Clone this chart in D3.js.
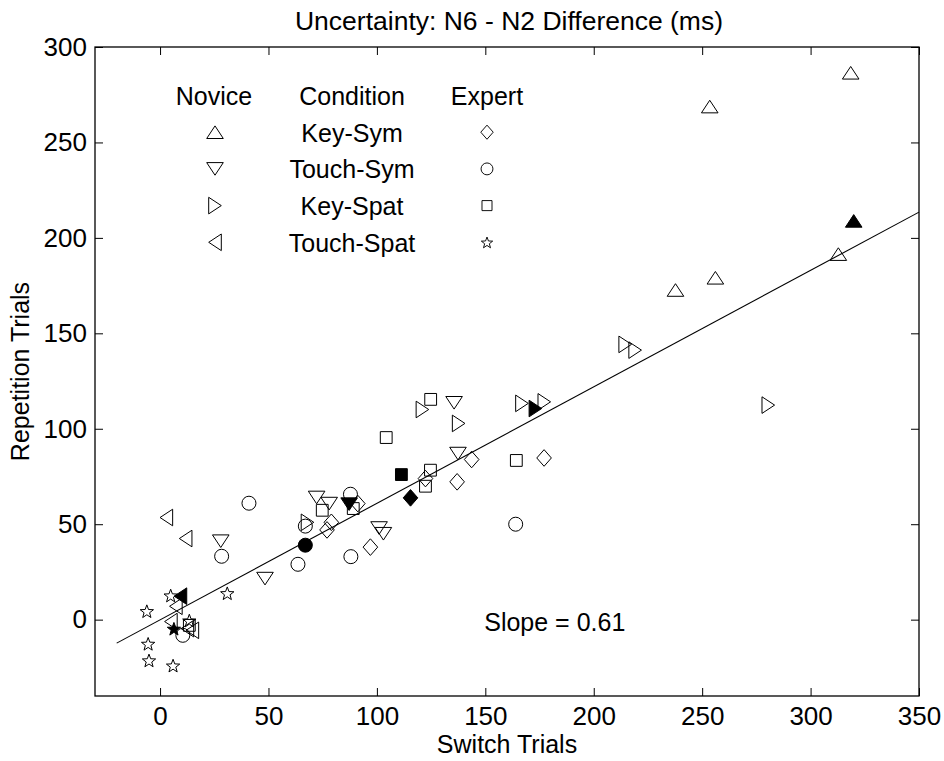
<!DOCTYPE html>
<html>
<head>
<meta charset="utf-8">
<script src="https://cdn.jsdelivr.net/npm/d3@7"></script>
<style>
  body { margin: 0; background: #fff; }
  svg { display: block; font-family: "Liberation Sans", Arial, sans-serif; }
</style>
</head>
<body>
<svg id="drawing_region"></svg>
<script>
// values, [switch, repetition] in ms
const keySymNovice = [[253.5, 268.8], [318.5, 286.5], [312.8, 191.5], [256.1, 179.1], [237.7, 172.7]];
const keySymNoviceMean = [[319.9, 208.9]];
const touchSymNovice = [[28.0, 41.1], [48.4, 21.5], [72.2, 64.0], [78.0, 60.8], [101, 48], [103, 45], [135.6, 113.6], [137.4, 87.0]];
const touchSymNoviceMean = [[87.2, 60.5]];
const keySpatNovice = [[68, 51], [121.0, 110.1], [137.7, 102.8], [166.9, 113.3], [177.2, 114.1], [214.5, 144.2], [219.1, 141.2], [280.5, 112.4]];
const keySpatNoviceMean = [[173.1, 110.6]];
const touchSpatNovice = [[2.9, 53.5], [11.8, 42.5], [7.3, 7.0], [12.6, -4.7], [14.9, -5.6], [5, -1]];
const touchSpatNoviceMean = [[9.4, 12.3]];

const keySymExpert = [[77, 47], [79, 51], [91.2, 60.8], [97, 38], [122.4, 73.9], [137, 72.2], [143.7, 83.9], [177.1, 84.7]];
const keySymExpertMean = [[115.5, 63.8]];
const touchSymExpert = [[10.5, -8.2], [28.4, 33.2], [41, 61], [63.6, 29.0], [67, 49], [87.8, 65.7], [88, 33], [164, 50]];
const touchSymExpertMean = [[67, 39]];
const keySpatExpert = [[13.5, -3], [74.8, 57.3], [89.1, 58.2], [104.3, 95.4], [122.4, 69.9], [124.7, 78.3], [124.8, 115.4], [164.3, 83.4]];
const keySpatExpertMean = [[111.3, 76.0]];
const touchSpatExpert = [[-6.1, 4.5], [-5.5, -12.6], [-5.1, -21.3], [6.0, -24.0], [4.9, 12.7], [13.5, -0.4], [31.0, 13.9]];
const touchSpatExpertMean = [[6.4, -4.7]];

// regression line end points
const fitX = [-20, 350];
const fitY = [-12.3, 213.5];
const slopeLabel = "Slope = 0.61";

const conditions = ["Key-Sym", "Touch-Sym", "Key-Spat", "Touch-Spat"];
const xTicks = [0, 50, 100, 150, 200, 250, 300, 350];
const yTicks = [0, 50, 100, 150, 200, 250, 300];
const xDomain = [-30, 350];
const yDomain = [-40, 300];

// marker outlines (pixels)
const shapes = {
    up: "M0,-6.3L8.3,6.3L-8.3,6.3Z",
    down: "M0,6.3L8.3,-6.3L-8.3,-6.3Z",
    right: "M6.3,0L-6.3,-8.3L-6.3,8.3Z",
    left: "M-6.3,0L6.3,-8.3L6.3,8.3Z",
    diamond: "M0,-8.3L7.3,0L0,8.3L-7.3,0Z",
    square: "M-5.9,-5.9H5.9V5.9H-5.9Z",
    circle: "M7,0A7,7 0 1,1 -7,0A7,7 0 1,1 7,0Z",
    star: (() => {
        let p = [];
        for (let i = 0; i < 10; i++) {
            const r = i % 2 === 0 ? 7 : 2.9;
            const a = -Math.PI / 2 + i * Math.PI / 5;
            p.push([r * Math.cos(a), r * Math.sin(a) + 0.8]);
        }
        return "M" + p.map(d => d[0].toFixed(2) + "," + d[1].toFixed(2)).join("L") + "Z";
    })()
};

const series = [
    { data: keySymNovice, shape: "up", filled: false },
    { data: touchSymNovice, shape: "down", filled: false },
    { data: keySpatNovice, shape: "right", filled: false },
    { data: touchSpatNovice, shape: "left", filled: false },
    { data: keySymExpert, shape: "diamond", filled: false },
    { data: touchSymExpert, shape: "circle", filled: false },
    { data: keySpatExpert, shape: "square", filled: false },
    { data: touchSpatExpert, shape: "star", filled: false },
    { data: keySymNoviceMean, shape: "up", filled: true },
    { data: touchSymNoviceMean, shape: "down", filled: true },
    { data: keySpatNoviceMean, shape: "right", filled: true },
    { data: touchSpatNoviceMean, shape: "left", filled: true },
    { data: keySymExpertMean, shape: "diamond", filled: true },
    { data: touchSymExpertMean, shape: "circle", filled: true },
    { data: keySpatExpertMean, shape: "square", filled: true },
    { data: touchSpatExpertMean, shape: "star", filled: true }
];

const config = {
    width: 944,
    height: 761,
    margin: { top: 47, right: 25, bottom: 65, left: 95 }
};

const svg = d3.select("#drawing_region")
    .attr("width", config.width)
    .attr("height", config.height);

const inner_width = config.width - config.margin.left - config.margin.right;
const inner_height = config.height - config.margin.top - config.margin.bottom;

const chart = svg.append("g")
    .attr("transform", `translate(${config.margin.left}, ${config.margin.top})`);

const xscale = d3.scaleLinear().domain(xDomain).range([0, inner_width]);
const yscale = d3.scaleLinear().domain(yDomain).range([inner_height, 0]);

const tick = 8;

// axes, ticks pointing inward on all four sides
const xaxis = chart.append("g")
    .attr("transform", `translate(0, ${inner_height})`)
    .call(d3.axisBottom(xscale).tickValues(xTicks).tickSizeInner(-tick).tickSizeOuter(0).tickPadding(11));
const yaxis = chart.append("g")
    .call(d3.axisLeft(yscale).tickValues(yTicks).tickSizeInner(-tick).tickSizeOuter(0).tickPadding(8));
chart.append("g")
    .call(d3.axisTop(xscale).tickValues(xTicks).tickSizeInner(-tick).tickSizeOuter(0).tickFormat(""));
chart.append("g")
    .attr("transform", `translate(${inner_width}, 0)`)
    .call(d3.axisRight(yscale).tickValues(yTicks).tickSizeInner(-tick).tickSizeOuter(0).tickFormat(""));

chart.selectAll(".domain").remove();
chart.selectAll(".tick line").attr("stroke", "#000").attr("stroke-width", 1);
chart.selectAll(".tick text")
    .attr("fill", "#000")
    .style("font-size", "26px")
    .style("font-family", "'Liberation Sans', Arial, sans-serif");

chart.append("rect")
    .attr("x", 0).attr("y", 0)
    .attr("width", inner_width).attr("height", inner_height)
    .attr("fill", "none")
    .attr("stroke", "#000")
    .attr("stroke-width", 1.3);

// fit line
const fit = fitX.map((d, i) => [d, fitY[i]]);
chart.append("path")
    .datum(fit)
    .attr("d", d3.line().x(d => xscale(d[0])).y(d => yscale(d[1])))
    .attr("fill", "none")
    .attr("stroke", "#000")
    .attr("stroke-width", 1.1);

// points
series.forEach(s => {
    chart.selectAll(null)
        .data(s.data)
        .enter()
        .append("path")
        .attr("transform", d => `translate(${xscale(d[0])}, ${yscale(d[1])})`)
        .attr("d", shapes[s.shape])
        .attr("fill", s.filled ? "#000" : "none")
        .attr("stroke", "#000")
        .attr("stroke-width", 1);
});

chart.append("text")
    .attr("x", xscale(149.5))
    .attr("y", yscale(-6))
    .style("font-size", "25px")
    .text(slopeLabel);

// legend
const legend = chart.append("g").style("font-size", "25px").attr("text-anchor", "middle");
const col = { novice: 120, cond: 257, expert: 392 };
const row0 = 58, rowStep = 36.7;
legend.append("text").attr("x", col.novice - 1).attr("y", row0).text("Novice");
legend.append("text").attr("x", col.cond).attr("y", row0).text("Condition");
legend.append("text").attr("x", col.expert).attr("y", row0).text("Expert");
const noviceShapes = ["up", "down", "right", "left"];
const expertShapes = ["diamond", "circle", "square", "star"];
conditions.forEach((c, i) => {
    const yy = row0 + rowStep * (i + 1);
    legend.append("text").attr("x", col.cond).attr("y", yy).text(c);
    legend.append("path")
        .attr("transform", `translate(${col.novice}, ${yy - 9.5})`)
        .attr("d", shapes[noviceShapes[i]])
        .attr("fill", "none").attr("stroke", "#000").attr("stroke-width", 1);
    legend.append("path")
        .attr("transform", `translate(${col.expert}, ${yy - 9.5}) scale(0.85)`)
        .attr("d", shapes[expertShapes[i]])
        .attr("fill", "none").attr("stroke", "#000").attr("stroke-width", 1.1);
});

// titles
svg.append("text")
    .attr("x", 509).attr("y", 30)
    .attr("text-anchor", "middle")
    .style("font-size", "26.5px")
    .text("Uncertainty: N6 - N2 Difference (ms)");

svg.append("text")
    .attr("x", config.margin.left + inner_width / 2)
    .attr("y", 753)
    .attr("text-anchor", "middle")
    .style("font-size", "25px")
    .text("Switch Trials");

svg.append("text")
    .attr("transform", `translate(29, ${config.margin.top + inner_height / 2}) rotate(-90)`)
    .attr("text-anchor", "middle")
    .style("font-size", "25px")
    .text("Repetition Trials");
</script>
</body>
</html>
